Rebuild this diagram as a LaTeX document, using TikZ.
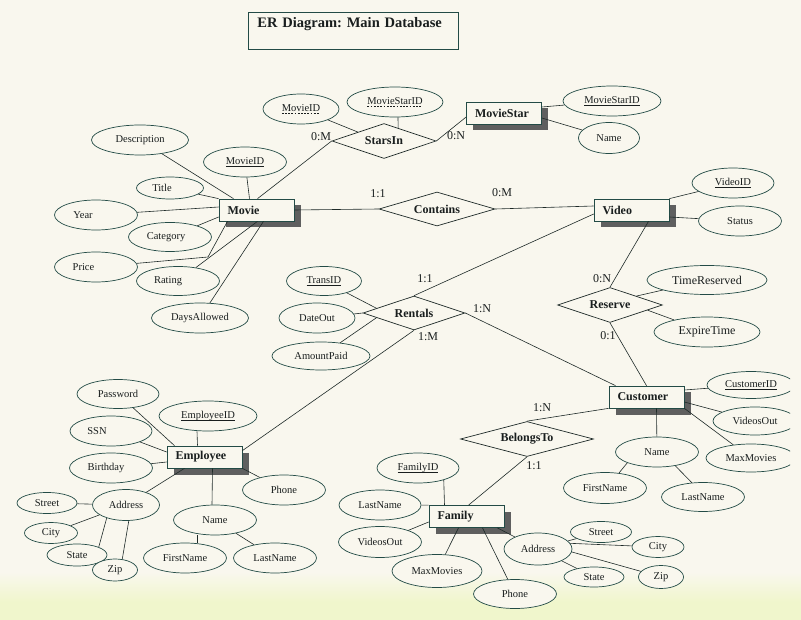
\documentclass[tikz,border=0pt]{standalone}
\usepackage{fontspec}
\setmainfont{Liberation Serif}
\usetikzlibrary{shapes.geometric,shadows,calc}

\definecolor{erbg}{RGB}{249,247,238}
\definecolor{erbottom}{RGB}{240,246,204}
\definecolor{erline}{RGB}{30,42,40}
\definecolor{erteal}{RGB}{35,75,70}
\definecolor{ershadow}{RGB}{95,95,95}
\definecolor{ertext}{RGB}{25,30,30}

\newcommand\attrfont{\fontsize{10.5}{12}\selectfont}
\newcommand\bigattrfont{\fontsize{12}{14}\selectfont}
\newcommand\entfont{\bfseries\fontsize{12}{14}\selectfont}
\newcommand\cardfont{\fontsize{12}{14}\selectfont}
\newcommand\headfont{\frenchspacing\bfseries\fontsize{14.5}{17}\selectfont}

\newsavebox\keybox
\newcommand\keyul[1]{\sbox\keybox{#1}\rlap{\raisebox{-1.8pt}{\rule{\wd\keybox}{0.45pt}}}\usebox\keybox}
\newcommand\partkeyul[1]{\sbox\keybox{#1}\rlap{\raisebox{-1.8pt}{\hbox to \wd\keybox{\xleaders\hbox{\rule{1.8pt}{0.45pt}\hspace{1.4pt}}\hfill}}}\usebox\keybox}

\tikzset{
	attr/.style 2 args={ellipse, draw=erteal, fill=erbg, line width=0.7pt, minimum width=#1, minimum height=#2, inner sep=0pt, font=\attrfont, text=ertext},
	entity/.style={rectangle, draw=erteal, fill=erbg, line width=0.7pt, minimum width=75pt, minimum height=22pt, text width=58pt, inner xsep=8.5pt, inner ysep=0pt, align=left, font=\entfont, text=ertext, drop shadow={opacity=1, fill=ershadow, shadow xshift=6.5pt, shadow yshift=-6.5pt}},
	rel/.style 2 args={diamond, aspect=3.8, draw=erline, fill=erbg, line width=0.7pt, minimum width=#1, minimum height=#2, inner sep=0pt, font=\entfont, text=ertext},
	card/.style={font=\cardfont, text=ertext, inner sep=0pt},
	link/.style={draw=erline, line width=0.6pt},
	headbox/.style={draw=erteal, fill=erbg, line width=0.8pt, text width=192pt, align=left, inner xsep=9pt, inner ysep=5pt, text height=10pt, text depth=17pt, font=\headfont, text=ertext, anchor=north west}
}

\begin{document}
\begin{tikzpicture}[x=1pt,y=-1pt]
	\useasboundingbox (0,0) rectangle (801,620);
	\fill[erbg] (0,0) rectangle (801,620);
	\shade[top color=erbg, bottom color=erbottom] (0,572) rectangle (801,602);
	\fill[erbottom] (0,602) rectangle (801,620);

	\node[headbox] (heading) at (248,12) {ER Diagram: Main Database};

	\node[entity] (movie) at (256.5,210) {Movie};
	\node[entity] (moviestar) at (504,113) {MovieStar};
	\node[entity] (video) at (631.5,210) {Video};
	\node[entity] (employee) at (204.5,457) {Employee};
	\node[entity] (customer) at (646.5,397) {Customer};
	\node[entity] (family) at (466.5,516.5) {Family};

	\node[rel={104pt}{35pt}] (starsin) at (384,141) {StarsIn};
	\node[rel={116pt}{34pt}] (contains) at (437,209) {Contains};
	\node[rel={102pt}{34pt}] (rentals) at (414,313) {Rentals};
	\node[rel={105pt}{35pt}] (reserve) at (610,305) {Reserve};
	\node[rel={133pt}{35pt}] (belongsto) at (527,439) {BelongsTo};

	\node[attr={76pt}{30pt}] (simovieid) at (301,109) {\partkeyul{MovieID}};
	\node[attr={96pt}{30pt}] (sistarid) at (395,102) {\partkeyul{MovieStarID}};
	\node[attr={97pt}{30pt}] (desc) at (140,140) {Description};
	\node[attr={83pt}{30pt}] (movieid) at (245,162) {\keyul{MovieID}};
	\node[attr={67pt}{22pt}] (title) at (170,188) {Title\hspace*{16pt}};
	\node[attr={83pt}{30pt}] (year) at (96,215) {Year\hspace*{26pt}};
	\node[attr={83pt}{29pt}] (category) at (170,237) {Category\hspace*{8pt}};
	\node[attr={83pt}{30pt}] (price) at (96,267) {Price\hspace*{25pt}};
	\node[attr={83pt}{29pt}] (rating) at (178,281) {Rating\hspace*{20pt}};
	\node[attr={97pt}{30pt}] (days) at (200,318) {DaysAllowed};

	\node[attr={98pt}{30pt}] (msid) at (612,101) {\keyul{MovieStarID}};
	\node[attr={61pt}{31pt}] (msname) at (609,138) {Name};
	\node[attr={82pt}{30pt}] (videoid) at (733,183) {\keyul{VideoID}};
	\node[attr={83pt}{30pt}] (status) at (740,221) {Status};
	\node[attr={120pt}{29pt}, font=\bigattrfont] (timeres) at (707,280) {TimeReserved};
	\node[attr={106pt}{30pt}, font=\bigattrfont] (expire) at (707,332) {ExpireTime};

	\node[attr={75pt}{29pt}] (transid) at (324,281) {\keyul{TransID}};
	\node[attr={76pt}{30pt}] (dateout) at (317,318) {DateOut};
	\node[attr={98pt}{28pt}] (amount) at (321,356) {AmountPaid};

	\begin{scope}
		\clip (0,0) rectangle (790,620);
		\node[attr={88pt}{27pt}] (custid) at (751,385) {\keyul{CustomerID}};
		\node[attr={84pt}{28pt}] (cvideos) at (755,421) {VideosOut};
		\node[attr={90pt}{28pt}] (cmax) at (751,458) {MaxMovies};
	\end{scope}
	\node[attr={83pt}{30pt}] (cname) at (657,452) {Name};
	\node[attr={83pt}{31pt}] (cfirst) at (605,488) {FirstName};
	\node[attr={83pt}{29pt}] (clast) at (703,497) {LastName};

	\node[attr={82pt}{30pt}] (famid) at (418,468) {\keyul{FamilyID}};
	\node[attr={82pt}{30pt}] (flast) at (380,505) {LastName};
	\node[attr={83pt}{31pt}] (fvideos) at (380,542) {VideosOut};
	\node[attr={90pt}{33pt}] (fmax) at (437,571) {MaxMovies};
	\node[attr={83pt}{29pt}] (fphone) at (515,594) {Phone};
	\node[attr={68pt}{32pt}] (faddr) at (538,549) {Address};
	\node[attr={61pt}{21pt}] (fstreet) at (601,532) {Street};
	\node[attr={52pt}{21pt}] (fcity) at (658,547) {City};
	\node[attr={60pt}{20pt}] (fstate) at (594,577) {State};
	\node[attr={45pt}{23pt}] (fzip) at (661,577) {Zip};

	\node[attr={82pt}{29pt}] (pass) at (118,394) {Password};
	\node[attr={98pt}{30pt}] (empid) at (208,416) {\keyul{EmployeeID}};
	\node[attr={82pt}{30pt}] (ssn) at (111,431) {SSN\hspace*{28pt}};
	\node[attr={83pt}{30pt}] (birth) at (111,468) {Birthday\hspace*{10pt}};
	\node[attr={83pt}{30pt}] (ephone) at (284,490) {Phone};
	\node[attr={67pt}{31pt}] (eaddr) at (126,505) {Address};
	\node[attr={60pt}{21pt}] (estreet) at (47,503) {Street};
	\node[attr={53pt}{21pt}] (ecity) at (51,533) {City};
	\node[attr={60pt}{22pt}] (estate) at (77,555) {State};
	\node[attr={45pt}{22pt}] (ezip) at (115,570) {Zip};
	\node[attr={83pt}{30pt}] (ename) at (215,520) {Name};
	\node[attr={83pt}{30pt}] (efirst) at (185,558) {FirstName};
	\node[attr={83pt}{30pt}] (elast) at (275,558) {LastName};

	\coordinate (pricebend) at (208,257);

	\draw[link] (desc) -- ([xshift=-23pt]movie.north);
	\draw[link] (movieid) -- ([xshift=-7pt]movie.north);
	\draw[link] (title) -- (movie.north west);
	\draw[link] (year) -- ([yshift=3pt]movie.west);
	\draw[link] (category) -- ([yshift=-7pt]movie.west);
	\draw[link] (price) -- (pricebend) -- ([xshift=-29pt]movie.south);
	\draw[link] (rating) -- ([xshift=1pt]movie.south);
	\draw[link] (days) -- ([xshift=7pt]movie.south);
	\draw[link] ([xshift=1pt]movie.north) -- (starsin.west);
	\draw[link] (movie.east) -- (contains.west);

	\draw[link] (simovieid) -- (starsin.north west);
	\draw[link] ([xshift=3pt]sistarid.south) -- ($(starsin.north)!0.27!(starsin.east)$);
	\draw[link] (starsin.east) -- ([yshift=-4pt]moviestar.west);
	\draw[link] (msid) -- ([yshift=6pt]moviestar.east);
	\draw[link] (msname) -- ([yshift=-5pt]moviestar.east);

	\draw[link] (contains.east) -- ([yshift=4pt]video.west);
	\draw[link] (videoid) -- (video.north east);
	\draw[link] (status) -- ([yshift=-7pt]video.east);
	\draw[link] ([yshift=-4pt]video.west) -- (rentals.north);
	\draw[link] ([xshift=17pt]video.south) -- (reserve.north);

	\draw[link] (timeres) -- (reserve.north east);
	\draw[link] (expire) -- ($(reserve.east)!0.29!(reserve.south)$);
	\draw[link] (reserve.south) -- (customer.north);

	\draw[link] (transid) -- ($(rentals.west)!0.27!(rentals.north)$);
	\draw[link] (dateout) -- (rentals.west);
	\draw[link] (amount) -- ($(rentals.west)!0.27!(rentals.south)$);
	\draw[link] (rentals.east) -- ([xshift=-31pt]customer.north);
	\draw[link] (rentals.south) -- ([yshift=-5pt]employee.north east);

	\draw[link] (pass) -- ([xshift=-30pt]employee.north);
	\draw[link] ([xshift=-11pt]empid.south) -- ([xshift=-7pt]employee.north);
	\draw[link] (ssn) -- ([yshift=5pt]employee.west);
	\draw[link] (birth) -- ([yshift=-5pt]employee.west);
	\draw[link] (eaddr) -- ([xshift=-20pt]employee.south);
	\draw[link] ([xshift=8pt]employee.south) -- ([xshift=-3pt]ename.north);
	\draw[link] (ephone) -- (employee.south east);
	\draw[link] (estreet) -- (eaddr);
	\draw[link] (ecity) -- (eaddr);
	\draw[link] (estate.20) -- (eaddr.214);
	\draw[link] (ezip.56) -- (eaddr.280);
	\draw[link] ([xshift=-18pt]ename.south) -- ([xshift=12pt]efirst.north);
	\draw[link] (ename) -- (elast);

	\draw[link] (custid) -- ([yshift=7pt]customer.east);
	\draw[link] (cvideos) -- ([yshift=-5pt]customer.east);
	\draw[link] (cmax) -- (customer.south east);
	\draw[link] (cname) -- ([xshift=10pt]customer.south);
	\draw[link] (cname.200) -- (cfirst.47);
	\draw[link] (cname.-37) -- (clast.128);
	\draw[link] (customer.south west) -- (belongsto.north);
	\draw[link] (belongsto.south) -- ([xshift=2pt]family.north);

	\draw[link] (famid.-25) -- ([xshift=-22pt]family.north);
	\draw[link] (flast) -- (family.north west);
	\draw[link] (fvideos) -- ([yshift=-5.5pt]family.west);
	\draw[link] (fmax) -- ([xshift=-8pt]family.south);
	\draw[link] (fphone) -- ([xshift=16pt]family.south);
	\draw[link] (faddr) -- ([xshift=-7pt]family.south east);
	\draw[link] (fstreet) -- (faddr);
	\draw[link] (faddr.10) -- (fcity);
	\draw[link] (fstate) -- (faddr);
	\draw[link] (faddr.-5) -- (fzip);

	\node[card] (cStarsM) at (321,137) {0:M};
	\node[card] (cStarsN) at (456,136) {0:N};
	\node[card] (cContains1) at (378,194) {1:1};
	\node[card] (cContainsM) at (502,193) {0:M};
	\node[card] (cRentVideo) at (425,279) {1:1};
	\node[card] (cRentCust) at (482,309) {1:N};
	\node[card] (cRentEmp) at (428,337) {1:M};
	\node[card] (cResVideo) at (602,279) {0:N};
	\node[card] (cResCust) at (608,336) {0:1};
	\node[card] (cBelCust) at (542,408) {1:N};
	\node[card] (cBelFam) at (534,466) {1:1};
\end{tikzpicture}
\end{document}
